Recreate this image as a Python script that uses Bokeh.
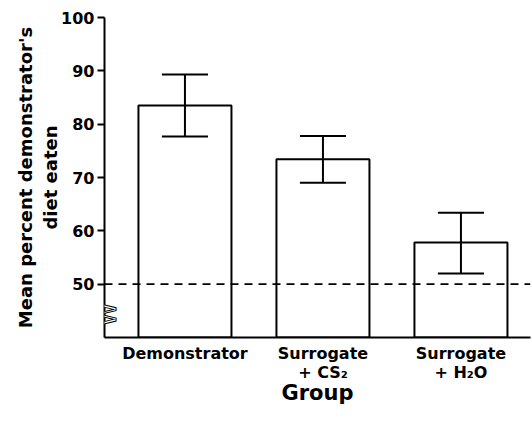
import math
from bokeh.plotting import figure
from bokeh.models import FixedTicker, Span, Range1d, Label
from bokeh.embed import file_html
from bokeh.resources import INLINE

# ---- data ----
groups = ["Demonstrator", "Surrogate\n+ CS\u2082", "Surrogate\n+ H\u2082O"]
means = [83.5, 73.4, 57.8]
upper = [89.3, 77.8, 63.4]
lower = [77.7, 69.0, 52.0]
y_ticks = [50, 60, 70, 80, 90, 100]
chance_level = 50
y_min, y_max = 40, 100

# ---- style ----
FONT = "DejaVu Sans"
xpos = [i + 1 for i in range(len(groups))]
x_start, x_end = 0.417, 3.504
bar_w = 0.674
cap_half = 0.167
FW, FH = 426, 320

p = figure(frame_width=FW, frame_height=FH, output_backend="svg",
           toolbar_location=None, title=None,
           x_range=Range1d(x_start, x_end), y_range=Range1d(y_min, y_max),
           min_border_left=104, min_border_right=1, min_border_top=17,
           min_border_bottom=70)
p.outline_line_color = None
p.grid.visible = False
p.background_fill_color = "white"

# bars
p.vbar(x=xpos, top=means, bottom=y_min, width=bar_w, fill_color="white",
       line_color="black", line_width=2)
# error bars
p.segment(x0=xpos, y0=lower, x1=xpos, y1=upper, line_color="black", line_width=2)
p.segment(x0=[x - cap_half for x in xpos], y0=upper,
          x1=[x + cap_half for x in xpos], y1=upper, line_color="black", line_width=2)
p.segment(x0=[x - cap_half for x in xpos], y0=lower,
          x1=[x + cap_half for x in xpos], y1=lower, line_color="black", line_width=2)

# chance line
p.add_layout(Span(location=chance_level, dimension="width", line_color="black",
                  line_dash="8 6", line_width=1.6))

# axis break mark (a rotated outlined "W" next to the axis)
px_y = (y_max - y_min) / FH
p.add_layout(Label(x=x_start, y=y_min + 23 * px_y, text="W", angle=math.pi / 2,
                   x_offset=3, text_font=FONT, text_font_size="24px",
                   text_align="center", text_baseline="middle",
                   text_color="white", text_outline_color="black"))

# x axis
xa = p.xaxis[0]
xa.ticker = FixedTicker(ticks=xpos)
xa.major_label_overrides = {x: g for x, g in zip(xpos, groups)}
xa.major_tick_out = 0
xa.major_tick_in = 0
xa.minor_tick_line_color = None
xa.axis_line_width = 2
xa.major_label_text_font = FONT
xa.major_label_text_font_style = "bold"
xa.major_label_text_font_size = "16px"
xa.major_label_text_line_height = 1.0
xa.major_label_text_color = "black"
xa.major_label_standoff = 6
xa.axis_label = "Group"
xa.axis_label_text_font = FONT
xa.axis_label_text_font_style = "bold"
xa.axis_label_text_font_size = "21px"
xa.axis_label_text_color = "black"
xa.axis_label_standoff = -4

# y axis
ya = p.yaxis[0]
ya.ticker = FixedTicker(ticks=y_ticks)
ya.major_tick_out = 7
ya.major_tick_in = 0
ya.major_tick_line_width = 2
ya.minor_tick_line_color = None
ya.axis_line_width = 2
ya.major_label_text_font = FONT
ya.major_label_text_font_style = "bold"
ya.major_label_text_font_size = "16px"
ya.major_label_text_color = "black"
ya.major_label_standoff = 3
ya.axis_label = "Mean percent demonstrator's\ndiet eaten"
ya.axis_label_text_font = FONT
ya.axis_label_text_font_style = "bold"
ya.axis_label_text_font_size = "18px"
ya.axis_label_text_color = "black"
ya.axis_label_standoff = -3

open("out.html", "w").write(file_html(p, INLINE))
